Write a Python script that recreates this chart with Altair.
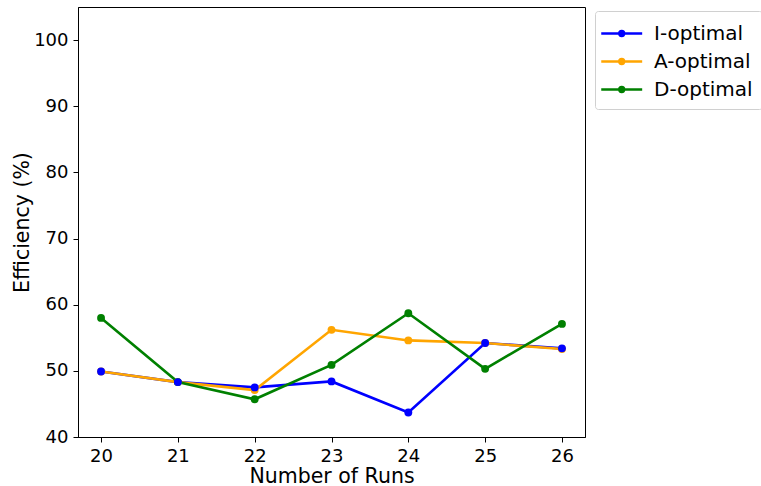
import altair as alt
import pandas as pd

runs = [20, 21, 22, 23, 24, 25, 26]
i_opt = [49.9, 48.3, 47.5, 48.4, 43.7, 54.2, 53.4]
a_opt = [49.9, 48.3, 47.1, 56.2, 54.6, 54.2, 53.3]
d_opt = [58.0, 48.3, 45.7, 50.9, 58.7, 50.3, 57.1]
series = ["I-optimal", "A-optimal", "D-optimal"]
colors = ["blue", "orange", "green"]

rows = []
for name, vals in zip(series, [i_opt, a_opt, d_opt]):
    for r, v in zip(runs, vals):
        rows.append({"runs": r, "eff": v, "design": name})
df = pd.DataFrame(rows)

font = "DejaVu Sans"
sym = ("M-1.35,0L2.05,0"
       "M0.15,0a0.2,0.2 0 1,0 0.4,0a0.2,0.2 0 1,0 -0.4,0"
       "M0.28,0a0.07,0.07 0 1,0 0.14,0a0.07,0.07 0 1,0 -0.14,0")

x = alt.X("runs:Q", title="Number of Runs",
          scale=alt.Scale(domain=[19.7, 26.3], nice=False, zero=False),
          axis=alt.Axis(values=runs, format="d"))
y = alt.Y("eff:Q", title="Efficiency (%)",
          scale=alt.Scale(domain=[40, 105], nice=False, zero=False),
          axis=alt.Axis(values=[40, 50, 60, 70, 80, 90, 100]))
color = alt.Color("design:N", sort=series,
                  scale=alt.Scale(domain=series, range=colors),
                  legend=alt.Legend(title=None, orient="none", legendX=517, legendY=4,
                                    symbolType=sym, symbolStrokeWidth=2.5, symbolSize=580,
                                    labelFontSize=20, labelFont=font, labelColor="black",
                                    labelOffset=23,
                                    strokeColor="#d0d0d0", fillColor="white", padding=9,
                                    cornerRadius=3, rowPadding=4))

base = alt.Chart(df).encode(x=x, y=y, color=color, order="design:N")
lines = base.mark_line(strokeWidth=2.6)
pts = base.mark_circle(size=62, opacity=1)

chart = alt.layer(lines, pts).properties(
    width=507, height=430,
    autosize=alt.AutoSizeParams(type="none"),
    padding={"left": 78, "top": 7, "right": 176, "bottom": 49},
).configure_axis(
    grid=False, domainColor="black", tickColor="black",
    labelFontSize=18, titleFontSize=20.5, labelFont=font, titleFont=font,
    labelColor="black", titleColor="black", titleFontWeight="normal",
    tickSize=5, labelPadding=5, titlePadding=1,
).configure_view(stroke="black", strokeWidth=1)

chart.save("out.html", embed_options={"renderer": "svg", "actions": False})
